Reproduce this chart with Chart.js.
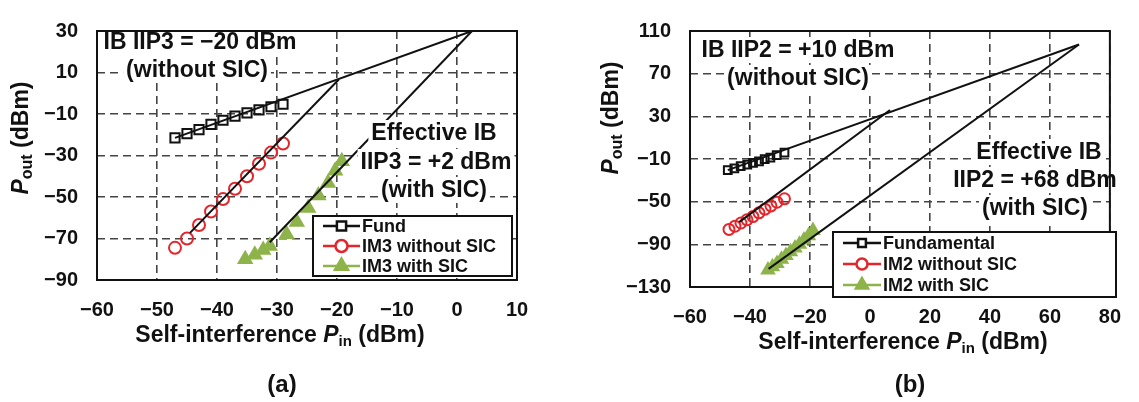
<!DOCTYPE html>
<html>
<head>
<meta charset="utf-8">
<script src="https://cdn.jsdelivr.net/npm/chart.js@4.4.0/dist/chart.umd.min.js"></script>
<style>
  body { margin: 0; background: #fff; }
  #wrap { position: relative; width: 1139px; height: 402px; }
  canvas { position: absolute; top: 0; }
</style>
</head>
<body>
<div id="wrap">
  <canvas id="chartA" width="560" height="402" style="left:0"></canvas>
  <canvas id="chartB" width="579" height="402" style="left:560px"></canvas>
</div>
<script>
'use strict';
// (a) IIP3 measurement
let fundPinA = [-47, -45, -43, -41, -39, -37, -35, -33, -31, -29];
let fundOutA = [-21.5, -19.5, -17.5, -15, -13, -11, -9.5, -8, -6.5, -5.3];
let im3NoSicPin = [-47, -45, -43, -41, -39, -37, -35, -33, -31, -29];
let im3NoSicOut = [-74.5, -70, -63.5, -57, -51, -46, -40, -34, -28.6, -24.2];
let im3SicPin = [-35.3, -33.7, -32.3, -31.2, -28.4, -26.7, -24.8, -23.1, -21.5, -20.3, -19.2];
let im3SicOut = [-80, -77.8, -75.5, -73.6, -68, -62, -55.3, -49.3, -43.3, -37.3, -32.8];
// fitted lines (end points)
let fundFitPinA = [-47, 2.5];
let fundFitOutA = [-21.5, 30];
let im3NoSicFitPin = [-44.5, -19.7];
let im3NoSicFitOut = [-67.3, 6.6];
let im3SicFitPin = [-31.2, 2.5];
let im3SicFitOut = [-71.8, 30];

// (b) IIP2 measurement
let fundPinB = [-47.4, -45.2, -43.1, -40.9, -39, -37, -35.1, -33.2, -31.1, -28.5];
let fundOutB = [-20.4, -18.7, -16.6, -15.2, -13.7, -12.2, -10.2, -8.7, -6.4, -4];
let im2NoSicPin = [-47, -45, -43, -41, -39, -37, -35, -33, -31, -28.5];
let im2NoSicOut = [-76, -73, -70, -67, -64, -60.5, -57, -54, -50.5, -47.3];
let im2SicPin = [-34, -32.5, -31, -29.5, -28, -26.5, -25, -23.5, -22, -20.5, -19];
let im2SicOut = [-114, -111, -108, -104, -100.5, -97, -93.5, -90, -86, -82, -77];
let fundFitPinB = [-47.4, 69.7];
let fundFitOutB = [-20.4, 97.4];
let im2NoSicFitPin = [-43.6, 6.7];
let im2NoSicFitOut = [-69.2, 36];
let im2SicFitPin = [-33.8, 69.7];
let im2SicFitOut = [-113, 97.4];

// axis ranges / tick steps
let xRangeA = [-60, 10, 10];
let yRangeA = [-90, 30, 20];
let xRangeB = [-60, 80, 20];
let yRangeB = [-130, 110, 40];

const FONT = "'Liberation Sans', Arial, sans-serif";
const RED = '#e3262b';
const GREEN = '#8db34a';
Chart.defaults.font.family = FONT;

function pts(xs, ys) {
  return xs.map((x, i) => ({x: x, y: ys[i]}));
}

function fitLine(xs, ys) {
  return {
    data: pts(xs, ys), showLine: true, borderColor: '#111', borderWidth: 2,
    pointRadius: 0, fill: false, inLegend: false
  };
}

function marks(label, xs, ys, style, r, color, fillColor) {
  return {
    label: label, data: pts(xs, ys), showLine: false, pointStyle: style,
    pointRadius: r, pointBorderWidth: 2, borderColor: color,
    pointBorderColor: color, pointBackgroundColor: fillColor, backgroundColor: fillColor,
    legendFill: fillColor === 'transparent' ? '#fff' : fillColor
  };
}

function fmt(v) {
  return String(v).replace('-', '\u2212');
}

function drawRich(ctx, parts, x, y, rot) {
  ctx.save();
  ctx.translate(x, y);
  if (rot) ctx.rotate(rot);
  let total = 0;
  parts.forEach(p => { ctx.font = p[1]; p.w = ctx.measureText(p[0]).width; total += p.w; });
  let cx = -total / 2;
  ctx.textBaseline = 'middle';
  ctx.textAlign = 'left';
  ctx.fillStyle = '#111';
  parts.forEach(p => { ctx.font = p[1]; ctx.fillText(p[0], cx, p[2] || 0); cx += p.w; });
  ctx.restore();
}

function makePlugin(cfg) {
  return {
    id: 'extras',
    afterDatasetsDraw(chart) {
      const ctx = chart.ctx;
      // text notes with white background
      ctx.save();
      ctx.font = 'bold 23px ' + FONT;
      ctx.textAlign = 'center';
      ctx.textBaseline = 'middle';
      cfg.notes.forEach(n => {
        const w = ctx.measureText(n[0]).width;
        ctx.fillStyle = '#fff';
        ctx.fillRect(n[1] - w / 2 - 3, n[2] - 13, w + 6, 26);
        ctx.fillStyle = '#111';
        ctx.fillText(n[0], n[1], n[2] + 1);
      });
      ctx.restore();
    },
    afterDraw(chart) {
      const ctx = chart.ctx;
      const a = chart.chartArea;
      ctx.save();
      ctx.lineWidth = 2;
      ctx.strokeStyle = '#111';
      ctx.strokeRect(a.left, a.top, a.right - a.left, a.bottom - a.top);

      // legend
      const b = cfg.legend;
      ctx.fillStyle = '#fff';
      ctx.fillRect(b.x, b.y, b.w, b.h);
      ctx.strokeRect(b.x, b.y, b.w, b.h);
      ctx.font = 'bold 18px ' + FONT;
      ctx.textAlign = 'left';
      ctx.textBaseline = 'middle';
      const items = chart.data.datasets.filter(d => d.inLegend !== false);
      items.forEach((d, i) => {
        const y = b.rows[i];
        ctx.strokeStyle = d.borderColor;
        ctx.lineWidth = 2.5;
        ctx.beginPath();
        ctx.moveTo(b.lx0, y);
        ctx.lineTo(b.lx1, y);
        ctx.stroke();
        ctx.fillStyle = d.legendFill;
        Chart.helpers.drawPoint(ctx, {pointStyle: d.pointStyle, radius: d.pointRadius, rotation: 0, borderWidth: 2}, (b.lx0 + b.lx1) / 2, y);
        ctx.fillStyle = '#111';
        ctx.fillText(d.label, b.tx, y + 1);
      });
      ctx.restore();

      // axis titles and caption
      const B = 'bold 23px ' + FONT;
      drawRich(ctx, [['Self-interference ', B], ['P', 'italic bold 23px ' + FONT], ['in', 'bold 15px ' + FONT, 6], [' (dBm)', B]], cfg.xTitle[0], cfg.xTitle[1]);
      const B2 = 'bold 23px ' + FONT;
      drawRich(ctx, [['P', 'italic bold 23px ' + FONT], ['out', 'bold 16px ' + FONT, 6], [' (dBm)', B2]], cfg.yTitle[0], cfg.yTitle[1], -Math.PI / 2);
      drawRich(ctx, [[cfg.caption, "bold 24px 'Liberation Sans Narrow', 'Liberation Sans', Arial"]], cfg.capPos[0], cfg.capPos[1]);
    }
  };
}

function makeChart(id, datasets, xr, yr, box, plugin) {
  const tickFont = {family: FONT, weight: 'bold', size: 20};
  const gridOpts = {color: '#444', lineWidth: 1.6, drawTicks: false};
  return new Chart(document.getElementById(id), {
    type: 'scatter',
    data: {datasets: datasets},
    options: {
      responsive: false,
      animation: false,
      layout: {padding: {left: 0, right: box.right, top: 14, bottom: 0}},
      plugins: {legend: {display: false}, tooltip: {enabled: false}},
      scales: {
        x: {
          type: 'linear', min: xr[0], max: xr[1],
          ticks: {stepSize: xr[2], font: tickFont, color: '#111', padding: 18, callback: fmt},
          grid: gridOpts,
          border: {display: false, dash: [8, 5]},
          afterFit(s) { s.height = box.xh; }
        },
        y: {
          type: 'linear', min: yr[0], max: yr[1],
          ticks: {stepSize: yr[2], font: tickFont, color: '#111', padding: 19, callback: fmt},
          grid: gridOpts,
          border: {display: false, dash: [8, 5]},
          afterFit(s) { s.width = box.left; }
        }
      }
    },
    plugins: [plugin]
  });
}

let chartA = makeChart('chartA', [
  fitLine(fundFitPinA, fundFitOutA),
  fitLine(im3NoSicFitPin, im3NoSicFitOut),
  fitLine(im3SicFitPin, im3SicFitOut),
  marks('Fund', fundPinA, fundOutA, 'rect', 6.5, '#111', 'transparent'),
  marks('IM3 without SIC', im3NoSicPin, im3NoSicOut, 'circle', 6, RED, 'transparent'),
  marks('IM3 with SIC', im3SicPin, im3SicOut, 'triangle', 7.5, GREEN, GREEN)
], xRangeA, yRangeA, {left: 97, right: 43, xh: 122}, makePlugin({
  notes: [['IB IIP3 = \u221220 dBm', 200, 42], ['(without SIC)', 197, 70],
    ['Effective IB', 434, 133], ['IIP3 = +2 dBm', 436, 162], ['(with SIC)', 434, 190]],
  legend: {x: 313, y: 216, w: 199, h: 60, rows: [226, 246, 266], lx0: 323, lx1: 360, tx: 362},
  xTitle: [280, 336], yTitle: [22, 138], caption: '(a)', capPos: [282, 385]
}));

let chartB = makeChart('chartB', [
  fitLine(fundFitPinB, fundFitOutB),
  fitLine(im2NoSicFitPin, im2NoSicFitOut),
  fitLine(im2SicFitPin, im2SicFitOut),
  marks('Fundamental', fundPinB, fundOutB, 'rect', 5.5, '#111', 'transparent'),
  marks('IM2 without SIC', im2NoSicPin, im2NoSicOut, 'circle', 5.5, RED, 'transparent'),
  marks('IM2 with SIC', im2SicPin, im2SicOut, 'triangle', 7, GREEN, GREEN)
], xRangeB, yRangeB, {left: 130, right: 19, xh: 115}, makePlugin({
  notes: [['IB IIP2 = +10 dBm', 238, 50], ['(without SIC)', 238, 78],
    ['Effective IB', 479, 152], ['IIP2 = +68 dBm', 475, 180], ['(with SIC)', 475, 208]],
  legend: {x: 273, y: 232, w: 283, h: 65, rows: [243, 264, 285], lx0: 283, lx1: 321, tx: 323},
  xTitle: [343, 343], yTitle: [52, 118], caption: '(b)', capPos: [350, 385]
}));
</script>
</body>
</html>
